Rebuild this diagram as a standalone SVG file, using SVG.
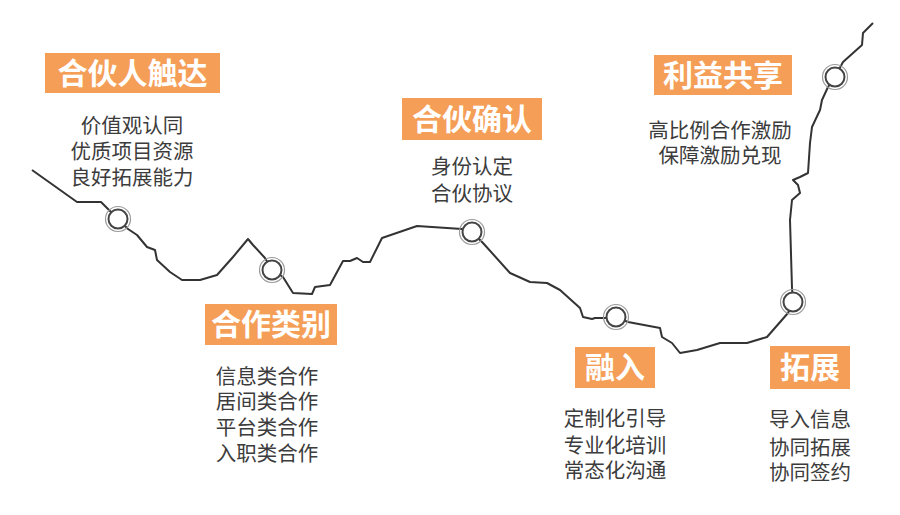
<svg xmlns="http://www.w3.org/2000/svg" width="900" height="515" viewBox="0 0 900 515">
<style>
.box{fill:#F59E57}
.title{font-family:"Noto Sans CJK SC","Noto Sans",sans-serif;font-size:30px;font-weight:bold;fill:#fff;text-anchor:middle}
.body{font-family:"Noto Sans CJK SC","Noto Sans",sans-serif;font-size:20.5px;fill:#3c3c3c;text-anchor:middle}
.path{fill:none;stroke:#333;stroke-width:2;stroke-linejoin:round}
.ro{fill:none;stroke:#9a9a9a;stroke-width:1.2}
.ri{fill:#fff;stroke:#444;stroke-width:2}
</style>
<rect width="900" height="515" fill="#fff"/>
<g id="connectors">
<polyline class="path" points="32,170 77,202 101,202 118,219 128,229 137,235 147,247 155,250 157,260 170,272 182,280 200,280 217,275 233,257 248,239 253,245 265,258 272,270 283,277 293,293 312,294 315,287 330,285 343,261 350,261 357,258 363,262 370,262 382,238 417,226 462,229 472,232 483,243 510,273 530,282 547,283 560,290 580,308 583,317 592,319 595,318 605,318 616,317 628,322 660,328 662,337 672,343 680,353 697,350 720,343 747,343 767,337 788,313 793,302 792,288 790,220 792,200 800,193 798,185 793,180 800,177 808,173 810,143 812,127 820,110 822,100 828,87 835,77 843,62 862,45 863,33 873,23"/>
</g>
<g id="n1">
<circle class="ro" cx="118" cy="219" r="12.5"/><circle class="ri" cx="118" cy="219" r="9.5"/>
<rect class="box" x="45" y="53" width="175" height="40"/>
<text class="title" x="132.5" y="84">合伙人触达</text>
<text class="body"><tspan x="132" y="133">价值观认同</tspan><tspan x="132" y="159">优质项目资源</tspan><tspan x="132" y="185">良好拓展能力</tspan></text>
</g>
<g id="n2">
<circle class="ro" cx="272" cy="270" r="12.5"/><circle class="ri" cx="272" cy="270" r="9.5"/>
<rect class="box" x="205" y="304" width="132" height="41"/>
<text class="title" x="271" y="335">合作类别</text>
<text class="body"><tspan x="267" y="384">信息类合作</tspan><tspan x="267" y="409">居间类合作</tspan><tspan x="267" y="435">平台类合作</tspan><tspan x="267" y="461">入职类合作</tspan></text>
</g>
<g id="n3">
<circle class="ro" cx="472" cy="232" r="12.5"/><circle class="ri" cx="472" cy="232" r="9.5"/>
<rect class="box" x="402" y="98" width="140" height="42"/>
<text class="title" x="472" y="130">合伙确认</text>
<text class="body"><tspan x="472" y="174">身份认定</tspan><tspan x="472" y="201">合伙协议</tspan></text>
</g>
<g id="n4">
<circle class="ro" cx="616" cy="317" r="12.5"/><circle class="ri" cx="616" cy="317" r="9.5"/>
<rect class="box" x="575" y="347" width="80" height="41"/>
<text class="title" x="615" y="378">融入</text>
<text class="body"><tspan x="615" y="426">定制化引导</tspan><tspan x="615" y="453">专业化培训</tspan><tspan x="615" y="478">常态化沟通</tspan></text>
</g>
<g id="n5">
<circle class="ro" cx="793" cy="302" r="12.5"/><circle class="ri" cx="793" cy="302" r="9.5"/>
<rect class="box" x="770" y="346" width="80" height="43"/>
<text class="title" x="810" y="378">拓展</text>
<text class="body"><tspan x="810" y="427">导入信息</tspan><tspan x="810" y="455">协同拓展</tspan><tspan x="810" y="480">协同签约</tspan></text>
</g>
<g id="n6">
<circle class="ro" cx="835" cy="77" r="12.5"/><circle class="ri" cx="835" cy="77" r="9.5"/>
<rect class="box" x="654" y="55" width="138" height="40"/>
<text class="title" x="723" y="86">利益共享</text>
<text class="body"><tspan x="720" y="138">高比例合作激励</tspan><tspan x="720" y="163">保障激励兑现</tspan></text>
</g>
</svg>
